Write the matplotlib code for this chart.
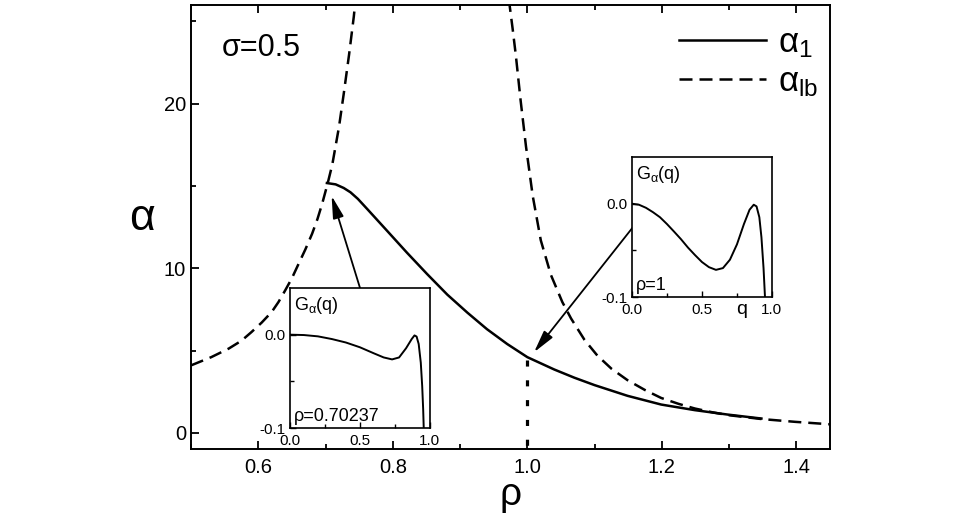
import matplotlib
matplotlib.use("Agg")
import matplotlib.pyplot as plt
from matplotlib.ticker import MultipleLocator

plt.rcParams["font.family"] = ["Liberation Sans", "DejaVu Sans"]
plt.rcParams["mathtext.fontset"] = "custom"
plt.rcParams["mathtext.rm"] = "Liberation Sans"
plt.rcParams["mathtext.it"] = "Liberation Sans"

# lower bound alpha_lb, left branch
rho_lb_left = [0.50, 0.53, 0.556, 0.575, 0.590, 0.605, 0.620, 0.630, 0.640,
               0.650, 0.660, 0.670, 0.680, 0.688, 0.695, 0.703, 0.710, 0.720,
               0.727, 0.735, 0.742, 0.745]
alpha_lb_left = [4.1, 4.6, 5.12, 5.6, 6.13, 6.7, 7.35, 7.95, 8.66, 9.4,
                 10.28, 11.15, 12.1, 13.0, 13.93, 15.14, 16.3, 18.6,
                 20.6, 23.0, 25.3, 26.5]

# lower bound alpha_lb, right branch
rho_lb_right = [0.972, 0.978, 0.983, 0.990, 0.998, 1.008, 1.020, 1.035, 1.052,
                1.065, 1.085, 1.104, 1.125, 1.149, 1.175, 1.199, 1.225, 1.249,
                1.275, 1.298, 1.348, 1.398, 1.45]
alpha_lb_right = [26.5, 24.6, 22.9, 20.2, 17.4, 14.4, 11.7, 9.6, 7.95,
                  6.95, 5.65, 4.7, 3.9, 3.2, 2.6, 2.12, 1.76, 1.48,
                  1.25, 1.08, 0.84, 0.67, 0.52]

# alpha_1
rho_1 = [0.702, 0.715, 0.727, 0.737, 0.748, 0.762, 0.791, 0.821, 0.851, 0.881,
         0.911, 0.940, 0.970, 1.000, 1.040, 1.070, 1.100, 1.149, 1.199,
         1.249, 1.298, 1.348]
alpha_1 = [15.18, 15.1, 14.88, 14.62, 14.22, 13.6, 12.3, 10.95, 9.65, 8.4,
           7.3, 6.3, 5.4, 4.6, 3.85, 3.35, 2.9, 2.25, 1.72,
           1.38, 1.11, 0.87]

# dotted marker at rho = 1
rho_dot = [1.0, 1.0]
alpha_dot = [4.4, -1.0]

# inset curves G_alpha(q)
q_a = [0.0, 0.1, 0.2, 0.3, 0.4, 0.5, 0.6, 0.67, 0.73, 0.78, 0.83, 0.87,
       0.89, 0.905, 0.92, 0.935, 0.945, 0.952, 0.957]
g_a = [0.0, -0.0004, -0.0018, -0.0047, -0.0084, -0.0135, -0.020, -0.0244,
       -0.0265, -0.0244, -0.0145, -0.0047, -0.0008, -0.002, -0.010, -0.030,
       -0.055, -0.080, -0.105]

q_b = [0.0, 0.05, 0.1, 0.15, 0.2, 0.25, 0.3, 0.35, 0.4, 0.45, 0.5, 0.55, 0.6,
       0.65, 0.7, 0.75, 0.8, 0.84, 0.87, 0.89, 0.91, 0.925, 0.94, 0.952]
g_b = [0.0, -0.0011, -0.0044, -0.0091, -0.0145, -0.0218, -0.0298, -0.038,
       -0.047, -0.055, -0.0625, -0.068, -0.0709, -0.069, -0.060, -0.0436,
       -0.0218, -0.0065, -0.0011, -0.0029, -0.0145, -0.036, -0.069, -0.105]

LW = 1.8
DASH = (5.2, 2.8)

fig = plt.figure(figsize=(9.6, 5.21), dpi=100)
ax = fig.add_axes([0.199, 0.1376, 0.6656, 0.8528])

ax.plot(rho_1, alpha_1, color="black", lw=LW, label=r"$\alpha_1$",
        solid_joinstyle="round")
ax.plot(rho_lb_left, alpha_lb_left, color="black", lw=LW, dashes=DASH,
        label=r"$\alpha_{\rm lb}$")
ax.plot(rho_lb_right, alpha_lb_right, color="black", lw=LW, dashes=DASH)
ax.plot(rho_dot, alpha_dot, color="black", lw=2.3, dashes=(1.9, 4.3))

ax.set_xlim(0.5, 1.45)
ax.set_ylim(-1, 26)
ax.xaxis.set_major_locator(MultipleLocator(0.2))
ax.xaxis.set_minor_locator(MultipleLocator(0.1))
ax.yaxis.set_major_locator(MultipleLocator(10))
ax.yaxis.set_minor_locator(MultipleLocator(5))
ax.xaxis.set_major_formatter(plt.FuncFormatter(lambda v, p: f"{v:.1f}"))
ax.tick_params(which="both", direction="in", top=True, right=False,
               width=1.3, labelsize=14.5)
ax.tick_params(axis="x", pad=6)
ax.tick_params(which="major", length=6)
ax.tick_params(which="minor", length=3.5)
for s in ax.spines.values():
    s.set_linewidth(1.4)
ax.set_xlabel("ρ", fontsize=28, labelpad=0)
ax.set_ylabel("α", fontsize=32, rotation=0, va="center", ha="center")
ax.yaxis.set_label_coords(-0.077, 0.52)

ax.text(0.545, 22.9, "σ=0.5", fontsize=22, va="baseline")

leg = ax.legend(loc="upper right", bbox_to_anchor=(1.03, 1.023), frameon=False,
                fontsize=25, handlelength=2.5, handletextpad=0.35,
                labelspacing=0.15)

arrow = dict(arrowstyle="-|>,head_length=0.9,head_width=0.22", lw=1.3,
             color="black", mutation_scale=15, shrinkA=0, shrinkB=0)
ax.annotate("", xy=(0.709, 14.4), xytext=(0.752, 8.7), arrowprops=arrow)
ax.annotate("", xy=(1.010, 4.9), xytext=(1.157, 12.5), arrowprops=arrow)


def inset(rect, q, g, label):
    ia = fig.add_axes(rect)
    ia.plot(q, g, color="black", lw=1.4)
    ia.set_xlim(0, 1)
    ia.set_ylim(-0.1, 0.05)
    ia.set_xticks([0.0, 0.5, 1.0])
    ia.set_xticks([0.25, 0.75], minor=True)
    ia.set_yticks([0.0, -0.1])
    ia.set_yticks([-0.05], minor=True)
    ia.set_xticklabels(["0.0", "0.5", "1.0"])
    ia.set_yticklabels(["0.0", "-0.1"])
    ia.tick_params(which="both", direction="in", labelsize=11, width=1.0)
    ia.tick_params(axis="x", pad=4)
    ia.tick_params(axis="y", pad=3)
    ia.tick_params(which="major", length=4)
    ia.tick_params(which="minor", length=3)
    for s in ia.spines.values():
        s.set_linewidth(1.2)
    ia.text(0.03, 0.95, r"G$_\alpha$(q)", transform=ia.transAxes,
            fontsize=13, va="top", ha="left")
    ia.text(0.03, 0.02, label, transform=ia.transAxes, fontsize=13,
            va="bottom", ha="left")
    return ia


inset([0.302, 0.1785, 0.1458, 0.2687], q_a, g_a, "ρ=0.70237")
ib = inset([0.6583, 0.4299, 0.1458, 0.2687], q_b, g_b, "ρ=1")
ib.text(0.78, -0.03, "q", transform=ib.transAxes, fontsize=14,
        ha="center", va="top")

fig.savefig("out.png", dpi=100)
